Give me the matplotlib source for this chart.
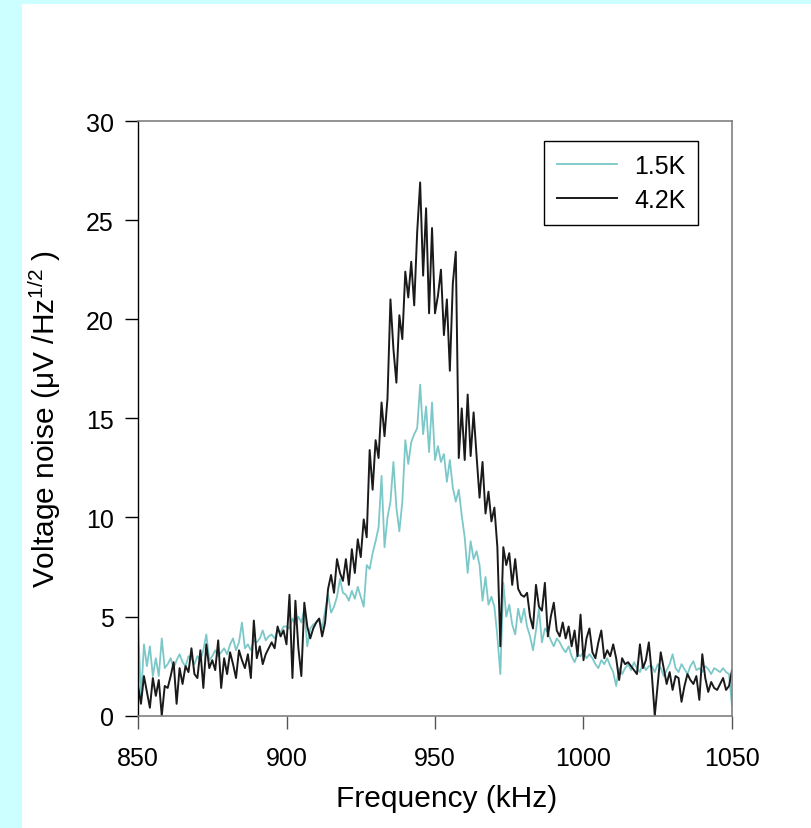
import numpy as np
import matplotlib
matplotlib.use("Agg")
import matplotlib.pyplot as plt
from matplotlib.patches import Rectangle

plt.rcParams["font.family"] = ["Liberation Sans", "DejaVu Sans"]
plt.rcParams["mathtext.fontset"] = "custom"
plt.rcParams["mathtext.rm"] = "Liberation Sans"
plt.rcParams["mathtext.it"] = "Liberation Sans"

# frequency grid in kHz, 1 kHz steps
freq_start = 850
freq_stop = 1050

# 1.5 K trace (uV/Hz^1/2)
noise_15K = [
    4.7, 0.8, 3.6, 2.5, 3.5, 2.0, 2.9, 2.0, 3.9, 2.4,
    2.6, 2.9, 2.4, 2.8, 3.1, 2.7, 2.5, 3.0, 2.9, 2.6,
    3.0, 2.8, 3.3, 4.1, 2.8, 3.0, 3.3, 3.0, 3.2, 3.4,
    3.1, 3.6, 3.9, 3.3, 3.7, 4.7, 3.4, 3.6, 3.3, 3.8,
    3.7, 3.9, 4.3, 3.8, 4.0, 4.1, 3.9, 4.3, 4.2, 4.5,
    4.5, 4.4, 4.9, 4.6, 5.0, 4.7, 5.4, 3.5, 4.4, 4.6,
    4.7, 4.9, 4.4, 5.3, 6.1, 5.2, 5.5, 6.0, 6.9, 6.2,
    6.1, 5.8, 6.3, 5.9, 6.5, 6.0, 5.5, 7.6, 7.4, 8.2,
    8.8, 9.5, 12.1, 8.5, 10.0, 10.8, 12.8, 10.5, 9.3, 10.8,
    13.9, 12.7, 13.8, 14.2, 14.5, 16.7, 14.2, 15.6, 13.3, 15.8,
    12.9, 13.6, 12.8, 13.2, 11.8, 12.9, 11.5, 10.8, 11.4, 10.1,
    9.0, 7.2, 8.8, 7.9, 8.3, 7.6, 5.8, 7.0, 5.6, 6.0,
    5.5, 4.0, 2.1, 6.7, 5.0, 5.6, 4.6, 4.1, 5.4, 4.7,
    5.4, 4.5, 4.0, 3.3, 4.3, 5.4, 3.7, 4.4, 4.2, 3.8,
    3.5, 3.9, 3.7, 3.4, 3.2, 3.5, 3.0, 2.7, 3.1, 3.0,
    3.2, 2.9, 3.1, 2.9, 2.6, 2.4, 2.8, 2.6, 2.9, 2.5,
    2.2, 1.5, 2.4, 2.1, 2.4, 2.6, 2.3, 2.7, 2.4, 2.2,
    2.6, 2.3, 2.5, 2.5, 2.2, 2.6, 2.4, 2.0, 2.3, 2.6,
    3.1, 2.4, 2.2, 2.6, 2.35, 2.1, 2.5, 2.75, 2.3, 2.4,
    2.2, 2.5, 2.35, 2.1, 2.4, 2.3, 2.2, 2.4, 2.2, 2.1,
    0.5,
]

# 4.2 K trace
noise_42K = [
    1.5, 0.6, 2.0, 1.2, 0.4, 1.9, 1.0, 1.8, 0.0, 1.5,
    1.4, 2.0, 2.7, 0.6, 2.4, 1.6, 2.5, 2.2, 3.4, 2.1,
    1.9, 3.3, 1.4, 3.6, 2.4, 2.8, 2.3, 3.8, 1.4, 2.9,
    2.1, 3.2, 2.6, 1.9, 3.3, 2.8, 2.4, 3.1, 1.9, 4.8,
    2.9, 3.5, 2.6, 3.1, 3.4, 3.7, 3.4, 4.5, 4.0, 4.3,
    3.6, 6.1, 1.9, 5.8, 3.4, 2.0, 5.7, 4.5, 3.9, 4.4,
    4.7, 4.9, 4.0, 4.7, 6.4, 7.1, 6.2, 7.9, 7.2, 6.8,
    7.9, 6.6, 8.4, 7.2, 8.9, 8.0, 9.9, 9.0, 13.4, 11.4,
    13.9, 13.0, 15.8, 14.1, 16.0, 21.0, 18.5, 16.8, 20.2, 19.0,
    22.4, 21.1, 22.9, 20.7, 24.4, 26.9, 22.2, 25.6, 20.3, 24.6,
    20.3, 21.2, 22.5, 19.2, 21.0, 17.4, 21.8, 23.4, 13.0, 15.5,
    12.9, 16.2, 13.1, 15.3, 13.1, 11.0, 12.8, 10.2, 11.3, 9.8,
    10.5, 8.5, 3.5, 8.5, 7.6, 8.2, 6.6, 7.9, 6.4, 6.1,
    6.0, 6.2, 5.0, 4.4, 6.6, 5.5, 5.3, 6.7, 4.0, 5.0,
    5.7, 4.3, 4.0, 4.7, 3.9, 4.5, 3.5, 4.3, 3.0, 5.1,
    2.8, 3.9, 4.4, 3.2, 2.9, 3.7, 4.3, 2.9, 3.3, 3.0,
    3.6, 2.9, 1.8, 2.9, 2.6, 2.7, 2.5, 2.3, 2.1, 3.6,
    2.4, 2.8, 3.7, 2.1, 0.0, 1.6, 3.2, 2.4, 1.6, 2.2,
    1.3, 2.0, 1.9, 0.7, 1.5, 2.1, 1.8, 1.6, 2.0, 0.8,
    3.1, 1.9, 1.2, 1.7, 1.4, 1.3, 1.6, 1.9, 1.3, 1.5,
    2.3,
]

freq = np.arange(freq_start, freq_stop + 1, 1)

fig = plt.figure(figsize=(8.12, 8.29), dpi=100)
fig.patch.set_facecolor("white")
# light cyan border on the left and top of the slide
fig.patches.append(Rectangle((0, 0), 22 / 812, 1, transform=fig.transFigure,
                             facecolor="#ccffff", edgecolor="none", zorder=-1))
fig.patches.append(Rectangle((0, 1 - 5 / 829), 1, 5 / 829, transform=fig.transFigure,
                             facecolor="#ccffff", edgecolor="none", zorder=-1))

ax = fig.add_axes([138 / 812, 1 - 716.7 / 829, 594 / 812, 594.7 / 829])
ax.plot(freq, noise_15K, color="#7cc8c8", linewidth=1.3, label="1.5K")
ax.plot(freq, noise_42K, color="#1a1a1a", linewidth=1.4, label="4.2K")

ax.set_xlim(850, 1050)
ax.set_ylim(0, 30)
ax.set_xticks([850, 900, 950, 1000, 1050])
ax.set_yticks([0, 5, 10, 15, 20, 25, 30])
ax.tick_params(direction="out", length=9.5, width=1.0, labelsize=18, pad=8)
ax.tick_params(axis="x", colors="#555555", labelcolor="black", pad=12)

for side in ["top", "right", "bottom"]:
    ax.spines[side].set_color("#808080")
    ax.spines[side].set_linewidth(1.2)
ax.spines["left"].set_color("black")
ax.spines["left"].set_linewidth(1.0)

ax.set_xlabel("Frequency (kHz)", fontsize=21.5, labelpad=11)
ax.xaxis.set_label_coords(0.52, -0.115)
ax.set_ylabel(r"Voltage noise ($\mu$V /Hz$^{1/2}$ )", fontsize=21.5, labelpad=16)

leg = ax.legend(loc="upper right", bbox_to_anchor=(0.943, 0.966), fontsize=18,
                frameon=True, fancybox=False, framealpha=1, edgecolor="black",
                handlelength=2.4, handletextpad=0.7, labelspacing=0.42,
                borderpad=0.5, borderaxespad=0)
leg.get_frame().set_linewidth(1.0)

fig.savefig("out.png", dpi=100)
